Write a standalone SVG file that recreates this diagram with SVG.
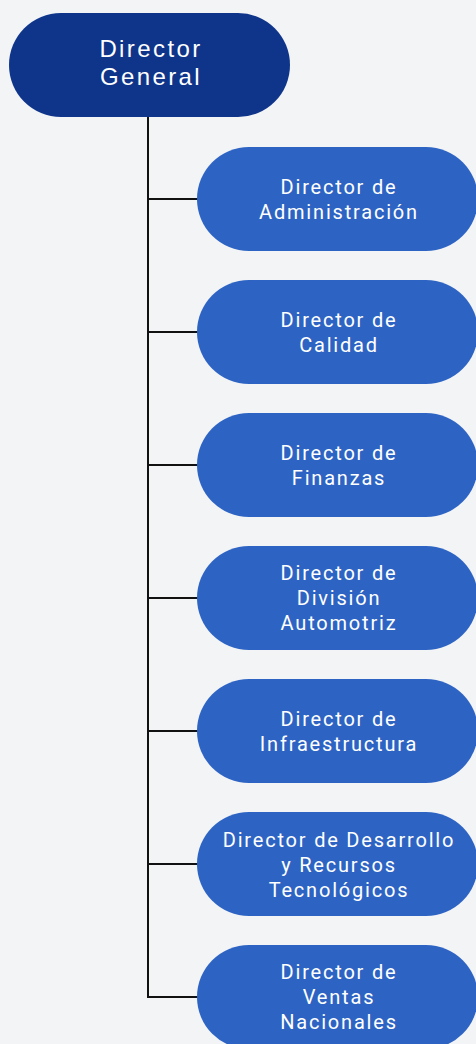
<svg xmlns="http://www.w3.org/2000/svg" width="476" height="1044" viewBox="0 0 476 1044">
<style>
.bg{fill:#F3F4F6}
.root{fill:#0F358B}
.child{fill:#2D64C4}
.rt{fill:#FFFFFF;font-family:"Liberation Sans",Arial,sans-serif;font-size:24px;letter-spacing:2.4px;text-anchor:middle}
.ct{fill:#FFFFFF;font-family:Roboto,"Liberation Sans",sans-serif;font-size:20px;letter-spacing:1.8px;text-anchor:middle}
.conn{stroke:#111111;stroke-width:2;fill:none}
</style>
<rect class="bg" x="0" y="0" width="476" height="1044"/>
<g id="connectors">
<path class="conn" d="M148 117 V997"/>
<path class="conn" d="M148 199 H198"/>
<path class="conn" d="M148 332 H198"/>
<path class="conn" d="M148 465 H198"/>
<path class="conn" d="M148 598 H198"/>
<path class="conn" d="M148 731 H198"/>
<path class="conn" d="M148 864 H198"/>
<path class="conn" d="M147 997 H198"/>
</g>
<g id="n0">
<rect class="root" x="9" y="13" width="281" height="104" rx="52"/>
<text class="rt" x="151" y="57">Director</text>
<text class="rt" x="151" y="85">General</text>
</g>
<g id="n1">
<rect class="child" x="197" y="147" width="281" height="104" rx="52"/>
<text class="ct" x="339" y="193.5">Director de</text>
<text class="ct" x="339" y="218.5">Administración</text>
</g>
<g id="n2">
<rect class="child" x="197" y="280" width="281" height="104" rx="52"/>
<text class="ct" x="339" y="326.5">Director de</text>
<text class="ct" x="339" y="351.5">Calidad</text>
</g>
<g id="n3">
<rect class="child" x="197" y="413" width="281" height="104" rx="52"/>
<text class="ct" x="339" y="459.5">Director de</text>
<text class="ct" x="339" y="484.5">Finanzas</text>
</g>
<g id="n4">
<rect class="child" x="197" y="546" width="281" height="104" rx="52"/>
<text class="ct" x="339" y="579.5">Director de</text>
<text class="ct" x="339" y="604.5">División</text>
<text class="ct" x="339" y="629.5">Automotriz</text>
</g>
<g id="n5">
<rect class="child" x="197" y="679" width="281" height="104" rx="52"/>
<text class="ct" x="339" y="725.5">Director de</text>
<text class="ct" x="339" y="750.5">Infraestructura</text>
</g>
<g id="n6">
<rect class="child" x="197" y="812" width="281" height="104" rx="52"/>
<text class="ct" x="339" y="846.5">Director de Desarrollo</text>
<text class="ct" x="339" y="871.5">y Recursos</text>
<text class="ct" x="339" y="896.5">Tecnológicos</text>
</g>
<g id="n7">
<rect class="child" x="197" y="945" width="281" height="104" rx="52"/>
<text class="ct" x="339" y="978.5">Director de</text>
<text class="ct" x="339" y="1003.5">Ventas</text>
<text class="ct" x="339" y="1028.5">Nacionales</text>
</g>
</svg>
